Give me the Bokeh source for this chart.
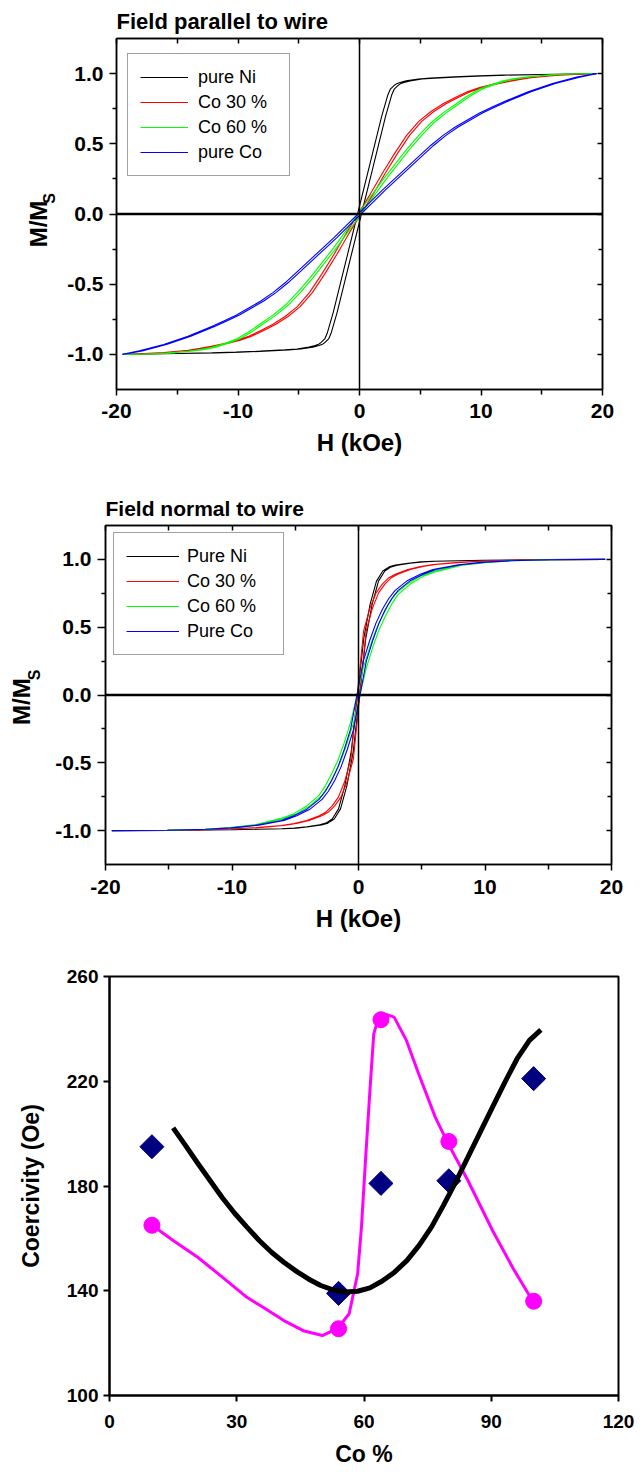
import numpy as np
from bokeh.plotting import figure
from bokeh.models import (FixedTicker, LinearAxis, Range1d, Span, Legend, LegendItem,
                          CustomJSTickFormatter, PrintfTickFormatter)
from bokeh.embed import file_html
from bokeh.resources import INLINE

FONT = "Liberation Sans"
NB = "\u00a0"

# ---------------- Panel 1: field parallel to wire (mid-loop M/Ms read for H >= 0, kOe) ----------------
par_H = [0, 1, 2, 3, 4, 5, 6, 7, 8, 9, 10, 11, 12, 13, 14, 16, 18, 19.5]
par_ni_H = [0, 1, 2, 2.5, 2.7, 3, 3.2, 3.5, 4, 5, 6, 8, 10, 12, 15, 19.5]
par_ni = [0, 0.35, 0.70, 0.85, 0.89, 0.915, 0.927, 0.937, 0.948, 0.961, 0.968, 0.977, 0.984, 0.989, 0.994, 1.0]
par_co30 = [0, 0.14, 0.29, 0.43, 0.56, 0.66, 0.73, 0.785, 0.83, 0.87, 0.90, 0.922, 0.94, 0.957, 0.97, 0.987, 0.996, 1.0]
par_co60 = [0, 0.12, 0.24, 0.35, 0.46, 0.56, 0.65, 0.72, 0.78, 0.84, 0.89, 0.922, 0.95, 0.966, 0.978, 0.993, 0.999, 1.0]
par_co = [0, 0.085, 0.17, 0.25, 0.33, 0.41, 0.49, 0.56, 0.62, 0.67, 0.72, 0.76, 0.80, 0.835, 0.87, 0.93, 0.975, 1.0]
par_halfwidth = [0.16, 0.12, 0.12, 0.12]
par_labels = ["pure Ni", "Co 30 %", "Co 60 %", "pure Co"]

# ---------------- Panel 2: field normal to wire ----------------
nor_H = [0, 0.5, 1, 1.5, 2, 2.5, 3, 4, 5, 6, 8, 10, 12, 15, 19.5]
nor_ni = [0, 0.42, 0.67, 0.84, 0.915, 0.945, 0.958, 0.972, 0.982, 0.986, 0.99, 0.994, 0.996, 0.998, 1.0]
nor_co30 = [0, 0.47, 0.64, 0.755, 0.82, 0.865, 0.89, 0.925, 0.948, 0.962, 0.978, 0.988, 0.994, 0.998, 1.0]
nor_co60 = [0, 0.20, 0.35, 0.48, 0.58, 0.67, 0.74, 0.82, 0.875, 0.91, 0.955, 0.978, 0.99, 0.997, 1.0]
nor_co = [0, 0.25, 0.40, 0.53, 0.63, 0.71, 0.77, 0.845, 0.89, 0.925, 0.96, 0.98, 0.99, 0.997, 1.0]
nor_halfwidth = [0.08, 0.10, 0.12, 0.12]
nor_labels = ["Pure Ni", "Co 30 %", "Co 60 %", "Pure Co"]

COLORS = ["black", "#FF0000", "#00FF00", "#0000FF"]

# ---------------- Panel 3: coercivity vs Co % ----------------
co_pct = [10, 54, 64, 80, 100]
hc_diamond = [195, 139, 181, 182, 221]
hc_circle = [165, 125.5, 243.5, 197, 136]
trend_black_x = [15.0, 17.9, 20.8, 23.7, 26.6, 29.5, 32.4, 35.3, 38.2, 41.1, 44.0, 46.9, 49.8, 52.7, 55.6,
                 58.5, 61.4, 64.3, 67.2, 70.1, 73.0, 75.9, 78.7, 81.6, 84.5, 87.4, 90.3, 93.2, 96.1, 99.0, 101.7]
trend_black_y = [202.2, 195.5, 188.7, 182.1, 175.5, 169.6, 164.3, 159.2, 154.7, 150.9, 147.5, 144.5, 142.0,
                 140.3, 139.5, 139.8, 141.1, 143.7, 147.1, 151.5, 157.3, 164.3, 172.5, 181.5, 191.0, 200.6,
                 210.1, 219.6, 228.6, 235.6, 239.6]
trend_mag_x = [9.9, 15.0, 20.8, 26.6, 32.4, 36.2, 41.1, 45.9, 50.2, 53.8, 56.5, 58.5, 59.4, 60.4, 61.4, 62.3,
               63.3, 65.2, 67.1, 70.0, 72.9, 76.8, 79.5, 84.5, 90.3, 95.2, 99.7]
trend_mag_y = [165.2, 159.2, 152.8, 145.2, 137.5, 133.7, 128.6, 124.6, 122.9, 125.7, 131.2, 146.5, 164.3, 191.0,
               216.5, 238.1, 243.5, 245.5, 244.5, 235.6, 222.8, 206.3, 197.2, 182.1, 163.0, 148.4, 136.3]


def loop(hs, ms, hw):
    hs = np.asarray(hs, float)
    ms = np.asarray(ms, float)
    H = np.concatenate([-hs[::-1], hs[1:]])
    M = np.concatenate([-ms[::-1], ms[1:]])
    sh = np.where(np.abs(H) < 19, hw, 0.0)
    Hd, Md = (H - sh)[::-1], M[::-1]
    Ha, Ma = H + sh, M
    return np.concatenate([Hd, Ha[1:]]), np.concatenate([Md, Ma[1:]])


def style_axis(ax, tick_size="21px", label_size="24px"):
    ax.axis_line_color = "black"
    ax.axis_line_width = 1.5
    ax.major_tick_line_color = "black"
    ax.major_tick_line_width = 1.5
    ax.minor_tick_line_color = "black"
    ax.minor_tick_line_width = 1.5
    ax.major_label_text_font = FONT
    ax.major_label_text_font_style = "bold"
    ax.major_label_text_font_size = tick_size
    ax.major_label_text_color = "black"
    ax.axis_label_text_font = FONT
    ax.axis_label_text_font_style = "bold"
    ax.axis_label_text_font_size = label_size
    ax.axis_label_text_color = "black"


def loop_panel(title, title_size, title_standoff, curves_H, curves_M, halfw, labels, fw, fh, bl, br, bt, bb,
               tick_out, xl_standoff, s_standoff, s_label, ml_standoff, ml_label,
               leg_loc, leg_pad, leg_lh, leg_sp, leg_gw, leg_so, leg_fs, leg_lw):
    p = figure(frame_width=fw, frame_height=fh, min_border_left=bl, min_border_right=br,
               min_border_top=bt, min_border_bottom=bb,
               x_range=Range1d(-20, 20), y_range=Range1d(-1.25, 1.25),
               output_backend="svg", toolbar_location=None)
    p.grid.grid_line_color = None
    p.outline_line_color = "black"
    p.outline_line_width = 1.5
    p.background_fill_color = "white"
    p.border_fill_color = "white"

    p.title.text = title
    p.title.align = "left"
    p.title.text_font = FONT
    p.title.text_font_style = "bold"
    p.title.text_font_size = title_size
    p.title.text_color = "black"
    p.title.standoff = title_standoff

    p.xaxis.ticker = FixedTicker(ticks=[-20, -10, 0, 10, 20], minor_ticks=[-15, -5, 5, 15])
    p.xaxis.formatter = PrintfTickFormatter(format="%d")
    p.yaxis.ticker = FixedTicker(ticks=[-1, -0.5, 0, 0.5, 1.0], minor_ticks=[-0.75, -0.25, 0.25, 0.75])
    p.yaxis.formatter = PrintfTickFormatter(format="%.1f")
    for ax in p.xaxis:
        style_axis(ax)
        ax.major_tick_out = 6
        ax.major_tick_in = 0
        ax.minor_tick_out = 5
        ax.minor_tick_in = 0
        ax.major_label_standoff = xl_standoff
        ax.axis_label = "H (kOe)"
        ax.axis_label_standoff = 8
    for ax in p.yaxis:
        style_axis(ax, label_size="16px")
        ax.major_tick_out = tick_out
        ax.major_tick_in = 0
        ax.minor_tick_out = 4
        ax.minor_tick_in = 0
        ax.major_label_standoff = 6
        ax.axis_label = s_label
        ax.axis_label_standoff = s_standoff

    empty = CustomJSTickFormatter(code="return ''")
    # outer left axis carrying only the "M/M" part of the label
    outer = LinearAxis(ticker=FixedTicker(ticks=[], minor_ticks=[]), formatter=empty,
                       major_tick_out=0, major_tick_in=0, minor_tick_out=0, minor_tick_in=0,
                       major_label_standoff=0, axis_label=ml_label, axis_label_standoff=ml_standoff)
    style_axis(outer)
    outer.axis_line_color = None
    outer.major_label_text_font_size = "1px"
    p.add_layout(outer, "left")

    top = LinearAxis(ticker=FixedTicker(ticks=[-20, -10, 0, 10, 20], minor_ticks=[-15, -5, 5, 15]),
                     formatter=empty, major_tick_in=5, major_tick_out=0, minor_tick_in=5, minor_tick_out=0,
                     major_label_standoff=0)
    right = LinearAxis(ticker=FixedTicker(ticks=[-1, -0.5, 0, 0.5, 1.0], minor_ticks=[-0.75, -0.25, 0.25, 0.75]),
                       formatter=empty, major_tick_in=5, major_tick_out=0, minor_tick_in=4, minor_tick_out=0,
                       major_label_standoff=0)
    for ax in (top, right):
        style_axis(ax)
        ax.major_label_text_font_size = "1px"
    p.add_layout(top, "above")
    p.add_layout(right, "right")

    p.add_layout(Span(location=0, dimension="width", line_color="black", line_width=2.5))
    p.add_layout(Span(location=0, dimension="height", line_color="black", line_width=1.5))

    items = []
    for hs, ms, hw, col, lab in zip(curves_H, curves_M, halfw, COLORS, labels):
        X, Y = loop(hs, ms, hw)
        r = p.line(X, Y, line_color=col, line_width=1.1)
        items.append(LegendItem(label=lab, renderers=[r]))

    leg = Legend(items=items, location=leg_loc, padding=leg_pad, spacing=leg_sp,
                 label_height=leg_lh, glyph_height=leg_lh, glyph_width=leg_gw, label_standoff=leg_so,
                 label_width=leg_lw,
                 label_text_font=FONT, label_text_font_size=leg_fs, label_text_color="black",
                 border_line_color="#444444", border_line_width=1, background_fill_color="white",
                 background_fill_alpha=1.0, margin=0)
    p.add_layout(leg, "center")
    return p


# page rows: p1 0-463, p2 463-940, p3 940-1470
p1 = loop_panel("Field parallel to wire", "22px", 10,
                [par_ni_H, par_H, par_H, par_H], [par_ni, par_co30, par_co60, par_co], par_halfwidth, par_labels,
                fw=486, fh=351, bl=116, br=42, bt=38, bb=74, tick_out=7, xl_standoff=8,
                s_standoff=6, s_label=NB * 7 + "S", ml_standoff=-13, ml_label="M/M" + NB * 3,
                leg_loc=(11, 213), leg_pad=12, leg_lh=22, leg_sp=3, leg_gw=48, leg_so=10, leg_fs="18px",
                leg_lw=79)

p2 = loop_panel("Field normal to wire", "21px", 11,
                [nor_H] * 4, [nor_ni, nor_co30, nor_co60, nor_co], nor_halfwidth, nor_labels,
                fw=506, fh=339, bl=105, br=33, bt=62, bb=76, tick_out=8, xl_standoff=9,
                s_standoff=9, s_label=NB * 9 + "S", ml_standoff=-11, ml_label="M/M" + NB * 2,
                leg_loc=(8, 209), leg_pad=12, leg_lh=22, leg_sp=3, leg_gw=53, leg_so=8, leg_fs="18px",
                leg_lw=84)

# ---------------- Panel 3 ----------------
p3 = figure(frame_width=509, frame_height=419, min_border_left=109, min_border_right=26,
            min_border_top=36, min_border_bottom=75,
            x_range=Range1d(0, 120), y_range=Range1d(100, 260),
            output_backend="svg", toolbar_location=None)
p3.grid.grid_line_color = None
p3.outline_line_color = "black"
p3.outline_line_width = 2
p3.xaxis.ticker = FixedTicker(ticks=[0, 30, 60, 90, 120], minor_ticks=[])
p3.yaxis.ticker = FixedTicker(ticks=[100, 140, 180, 220, 260], minor_ticks=[])
for ax in list(p3.xaxis) + list(p3.yaxis):
    style_axis(ax, "19px", "23px")
    ax.axis_line_width = 2
    ax.major_tick_line_width = 2
    ax.major_tick_out = 6
    ax.major_tick_in = 0
    ax.minor_tick_out = 0
    ax.minor_tick_in = 0
p3.xaxis.major_label_standoff = 13
p3.xaxis.axis_label = "Co %"
p3.xaxis.axis_label_standoff = 10
p3.yaxis.major_label_standoff = 5
p3.yaxis.axis_label = "Coercivity (Oe)"
p3.yaxis.axis_label_standoff = 20

p3.scatter(co_pct, hc_diamond, marker="square", size=17, angle=np.pi / 4,
           fill_color="#000080", line_color="#000080")
p3.line(trend_mag_x, trend_mag_y, line_color="#FF00FF", line_width=3)
p3.scatter(co_pct, hc_circle, marker="circle", size=16, fill_color="#FF00FF", line_color="#FF00FF")
p3.line(trend_black_x, trend_black_y, line_color="black", line_width=5)

open("out.html", "w").write(file_html([p1, p2, p3], INLINE))
